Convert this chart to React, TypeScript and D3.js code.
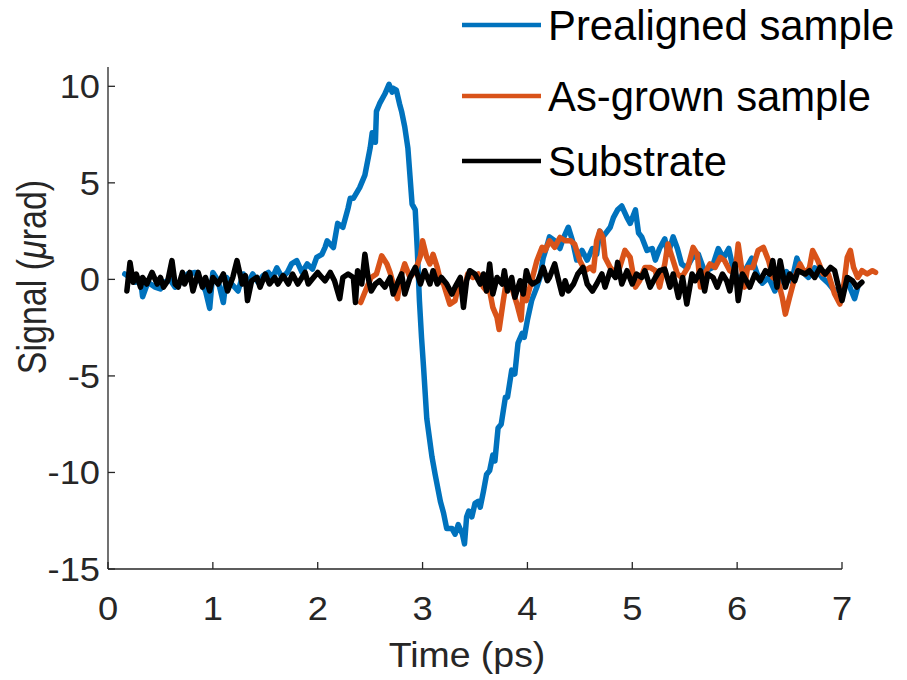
import React from "react";
import * as d3 from "d3";

// ---------- data (time in ps, signal in µrad) ----------
const prealigned: [number, number][] = [
  [0.16, 0.28], [0.21, 0.1], [0.26, -0.15], [0.31, 0.0], [0.33, -0.9], [0.38, -0.15], [0.45, -0.4],
  [0.5, -0.5], [0.54, -0.15], [0.59, 0.0], [0.64, -0.4], [0.71, -0.07], [0.76, 0.28], [0.83, 0.36],
  [0.88, -0.07], [0.93, -0.6], [0.97, -1.5], [1.0, 0.36], [1.05, -0.07], [1.1, -1.2], [1.13, 0.1],
  [1.18, -0.24], [1.24, -0.6], [1.29, 0.28], [1.33, -0.24], [1.38, 0.28], [1.43, -0.15], [1.48, 0.2],
  [1.53, 0.36], [1.57, 0.1], [1.61, 0.6], [1.66, 0.1], [1.71, 0.36], [1.75, 0.8], [1.8, 0.97],
  [1.85, 0.36], [1.9, 0.8], [1.95, 0.53], [1.99, 1.14], [2.04, 1.3], [2.07, 1.66], [2.09, 2.0],
  [2.15, 1.65], [2.19, 2.9], [2.24, 2.7], [2.29, 3.7], [2.31, 4.2], [2.34, 4.2], [2.4, 4.75],
  [2.45, 5.4], [2.5, 6.8], [2.52, 7.6], [2.55, 7.1], [2.56, 8.7], [2.59, 9.1], [2.64, 9.6],
  [2.68, 10.1], [2.71, 9.7], [2.72, 9.9], [2.75, 9.8], [2.78, 9.1], [2.8, 8.7], [2.83, 7.9],
  [2.86, 6.8], [2.9, 3.9], [2.93, 3.6], [2.95, 1.5], [2.97, -1.1], [2.99, -3.0], [3.01, -4.6],
  [3.04, -7.2], [3.09, -9.2], [3.12, -10.1], [3.17, -11.5], [3.2, -12.1], [3.23, -12.9], [3.28, -12.9],
  [3.31, -13.2], [3.34, -12.7], [3.38, -13.2], [3.4, -13.7], [3.42, -12.3], [3.44, -12.0], [3.47, -12.3],
  [3.5, -11.6], [3.53, -11.5], [3.55, -11.8], [3.58, -11.0], [3.61, -10.1], [3.64, -9.9], [3.67, -9.1],
  [3.69, -9.4], [3.72, -7.7], [3.75, -7.5], [3.79, -6.1], [3.81, -6.1], [3.85, -4.7], [3.88, -4.9],
  [3.91, -3.3], [3.95, -2.8], [3.97, -3.0], [4.0, -2.1], [4.04, -1.1], [4.09, -0.4], [4.12, 0.1],
  [4.15, 1.1], [4.19, 1.8], [4.21, 2.2], [4.26, 2.0], [4.31, 1.6], [4.34, 2.1], [4.39, 2.7],
  [4.43, 2.0], [4.47, 1.0], [4.52, 1.5], [4.57, 1.0], [4.62, 1.6], [4.66, 1.3], [4.69, 2.5],
  [4.72, 2.2], [4.79, 2.7], [4.82, 3.2], [4.86, 3.6], [4.9, 3.8], [4.95, 3.2], [4.98, 2.9],
  [5.03, 3.6], [5.06, 2.4], [5.09, 2.2], [5.14, 1.5], [5.19, 1.6], [5.22, 1.0], [5.26, 1.6],
  [5.31, 2.1], [5.34, 1.3], [5.39, 2.2], [5.43, 1.6], [5.47, 0.8], [5.52, 0.6], [5.57, 1.1],
  [5.63, 1.3], [5.69, 0.4], [5.76, 0.6], [5.82, 1.6], [5.87, 1.1], [5.92, 1.6], [5.96, 0.6],
  [6.01, -0.1], [6.07, 0.4], [6.14, 1.1], [6.19, 0.3], [6.24, -0.2], [6.3, 0.1], [6.36, -0.6],
  [6.41, -0.1], [6.47, 0.4], [6.52, -0.1], [6.57, 1.1], [6.62, 0.4], [6.68, 0.1], [6.74, 0.6],
  [6.81, 0.1], [6.87, -0.2], [6.93, -0.6], [7.0, -0.4], [7.06, -0.2], [7.12, -1.0], [7.15, -0.4],
];

const asGrown: [number, number][] = [
  [2.41, -1.2], [2.44, -0.8], [2.47, -0.4], [2.51, 0.1], [2.56, 0.28], [2.61, 1.22], [2.66, 0.8],
  [2.69, 0.36], [2.72, -0.24], [2.76, -1.0], [2.79, 0.1], [2.83, 0.8], [2.88, 0.1], [2.93, 0.45],
  [2.98, 1.22], [3.0, 2.0], [3.04, 1.14], [3.07, 0.8], [3.1, 1.3], [3.14, 0.62], [3.17, -0.07],
  [3.2, -0.24], [3.23, -0.76], [3.26, -1.28], [3.31, -1.1], [3.34, -0.4], [3.39, -0.76], [3.43, 0.28],
  [3.48, 0.1], [3.53, 0.28], [3.58, -0.4], [3.61, -0.6], [3.64, -0.6], [3.67, -1.45], [3.71, -1.97],
  [3.73, -2.6], [3.77, -1.1], [3.8, -0.07], [3.85, -0.4], [3.9, -1.28], [3.94, -2.1], [3.96, -0.4],
  [3.99, -1.1], [4.04, -0.07], [4.09, 0.97], [4.14, 1.66], [4.17, 1.5], [4.21, 2.0], [4.26, 1.66],
  [4.31, 2.17], [4.36, 2.0], [4.41, 2.0], [4.45, 1.83], [4.5, 0.97], [4.55, 0.45], [4.6, 0.62],
  [4.63, 0.45], [4.66, 2.0], [4.69, 2.5], [4.72, 2.17], [4.74, 1.14], [4.79, 0.62], [4.84, 0.28],
  [4.88, 0.62], [4.93, 1.5], [4.98, 1.14], [5.03, -0.4], [5.07, -0.07], [5.12, 0.62], [5.17, 0.62],
  [5.22, 0.45], [5.26, -0.4], [5.31, 0.8], [5.34, 1.83], [5.38, 1.14], [5.43, 0.28], [5.47, 0.1],
  [5.53, 0.62], [5.58, 1.66], [5.62, 1.3], [5.65, -0.4], [5.69, 0.28], [5.74, 0.8], [5.79, 0.62],
  [5.84, 1.14], [5.88, 0.97], [5.93, 0.45], [5.98, 0.28], [6.01, 1.83], [6.05, 0.28], [6.07, -0.4],
  [6.1, 0.62], [6.15, 0.62], [6.2, 1.5], [6.25, 1.66], [6.3, 0.97], [6.34, 0.1], [6.39, -0.07],
  [6.43, -0.93], [6.46, -1.8], [6.5, -0.93], [6.55, 0.1], [6.6, 0.8], [6.65, 0.28], [6.69, 0.62],
  [6.72, 1.5], [6.77, 0.97], [6.82, 0.28], [6.87, 0.28], [6.93, -0.76], [6.98, -1.28], [7.01, -0.6],
  [7.05, 1.14], [7.08, 1.5], [7.11, 0.62], [7.15, 0.1], [7.19, 0.45], [7.24, 0.28], [7.29, 0.45],
  [7.32, 0.36],
];

const substrate: [number, number][] = [
  [0.18, -0.6], [0.21, 0.88], [0.24, -0.15], [0.27, 0.28], [0.31, -0.4], [0.33, 0.1], [0.37, -0.24],
  [0.42, 0.36], [0.47, -0.24], [0.5, 0.1], [0.53, -0.4], [0.57, -0.07], [0.61, 0.97], [0.64, -0.24],
  [0.67, -0.4], [0.71, 0.36], [0.73, -0.24], [0.78, 0.36], [0.81, -0.6], [0.86, 0.36], [0.9, -0.4],
  [0.93, 0.1], [0.97, -0.6], [1.0, 0.1], [1.05, -0.24], [1.1, 0.28], [1.14, -0.6], [1.19, 0.1],
  [1.23, 0.97], [1.28, -0.24], [1.31, 0.2], [1.33, -1.1], [1.37, -0.07], [1.42, 0.1], [1.45, -0.4],
  [1.5, 0.28], [1.54, -0.24], [1.59, 0.1], [1.62, -0.24], [1.67, 0.2], [1.72, -0.24], [1.76, 0.28],
  [1.81, -0.24], [1.85, 0.1], [1.88, 0.36], [1.91, -0.24], [1.96, 0.1], [2.0, 0.36], [2.04, 0.1],
  [2.07, -0.07], [2.12, 0.36], [2.16, -0.07], [2.21, -1.0], [2.24, 0.1], [2.29, 0.28], [2.34, 0.1],
  [2.36, -1.2], [2.38, 0.45], [2.42, -0.24], [2.45, 1.3], [2.48, 0.1], [2.51, -0.6], [2.55, -0.24],
  [2.59, -0.07], [2.64, -0.4], [2.69, 0.1], [2.72, -0.76], [2.77, -0.07], [2.8, 0.28], [2.83, -0.76],
  [2.88, 0.1], [2.93, 0.62], [2.98, -0.24], [3.02, 0.45], [3.07, -0.24], [3.1, 0.45], [3.14, -0.24],
  [3.18, 0.1], [3.23, -0.24], [3.28, -0.76], [3.31, -0.4], [3.36, 0.1], [3.39, -1.45], [3.42, -0.07],
  [3.45, 0.45], [3.5, 0.28], [3.55, -0.24], [3.58, 0.28], [3.61, -0.6], [3.64, 0.8], [3.67, -0.76],
  [3.71, 0.1], [3.76, -0.24], [3.78, 0.45], [3.81, -0.6], [3.85, 0.1], [3.88, -0.93], [3.93, -0.07],
  [3.96, -0.76], [3.99, 0.45], [4.02, -0.07], [4.05, -0.24], [4.1, -0.07], [4.15, 0.62], [4.19, -0.07],
  [4.21, 0.1], [4.26, 0.8], [4.29, 0.1], [4.33, -0.76], [4.36, -0.07], [4.39, -0.6], [4.44, -0.24],
  [4.48, 0.28], [4.53, 0.62], [4.57, -0.24], [4.62, -0.6], [4.66, -0.24], [4.71, 0.28], [4.74, -0.4],
  [4.79, 0.45], [4.84, 0.1], [4.86, 0.88], [4.9, -0.24], [4.95, 0.45], [5.0, -0.24], [5.04, 0.28],
  [5.09, 0.1], [5.12, 0.45], [5.17, -0.4], [5.22, 0.1], [5.26, 0.45], [5.31, 0.53], [5.36, -0.4],
  [5.39, 0.28], [5.44, -0.93], [5.48, 0.1], [5.52, -1.28], [5.57, 0.28], [5.6, -0.07], [5.65, 0.45],
  [5.69, -0.6], [5.72, 0.28], [5.77, 0.1], [5.81, -0.4], [5.86, 0.28], [5.9, -0.07], [5.93, -0.6],
  [5.98, 0.8], [6.01, -1.1], [6.05, 0.28], [6.07, 0.1], [6.12, -0.4], [6.17, 0.28], [6.22, -0.07],
  [6.27, 0.45], [6.31, 0.28], [6.34, 0.97], [6.38, -0.4], [6.41, 0.97], [6.46, -0.4], [6.5, 0.28],
  [6.55, -0.07], [6.58, 0.45], [6.65, 0.28], [6.69, 0.45], [6.74, 0.1], [6.79, 0.62], [6.84, 0.28],
  [6.89, 0.62], [6.93, 0.45], [6.96, -0.24], [7.0, -1.1], [7.05, 0.1], [7.1, -0.07], [7.14, -0.4],
  [7.19, -0.15],
];

const xTicks = [0, 1, 2, 3, 4, 5, 6, 7];
const yTicks = [-15, -10, -5, 0, 5, 10];
const seriesNames = ["Prealigned sample", "As-grown sample", "Substrate"];
const seriesColors = ["#0072BD", "#D95319", "#000000"];

export default function App() {
  const W = 907;
  const H = 680;
  const left = 108;
  const right = 842;
  const top = 67;
  const bottom = 569;
  const x = d3.scaleLinear().domain([0, 7]).range([left, right]);
  const y = d3.scaleLinear().domain([-15, 11]).range([bottom, top]);
  const line = d3
    .line<[number, number]>()
    .x((d) => x(d[0]))
    .y((d) => y(d[1]));
  const seriesData = [prealigned, asGrown, substrate];
  const axisColor = "#262626";
  const font = "'Liberation Sans', Arial, Helvetica, sans-serif";
  const tickFs = 33;
  const legendRows = [25, 96, 161];

  return (
    <svg
      width={W}
      height={H}
      style={{ position: "absolute", left: 0, top: 0, background: "#fff" }}
      fontFamily={font}
    >
      <rect x={0} y={0} width={W} height={H} fill="#fff" />
      {/* data */}
      {seriesData.map((s, i) => (
        <path
          key={i}
          d={line(s) || ""}
          fill="none"
          stroke={seriesColors[i]}
          strokeWidth={5.5}
          strokeLinejoin="round"
          strokeLinecap="round"
        />
      ))}
      {/* axes */}
      <line x1={left} y1={top} x2={left} y2={bottom} stroke={axisColor} strokeWidth={1.3} />
      <line x1={left} y1={bottom} x2={right} y2={bottom} stroke={axisColor} strokeWidth={1.3} />
      {xTicks.map((t) => (
        <g key={"xt" + t}>
          <line x1={x(t)} x2={x(t)} y1={bottom} y2={bottom - 7} stroke={axisColor} strokeWidth={1.3} />
          <g transform={`translate(${x(t)},620) scale(1.1,1)`}>
            <text x={0} y={0} textAnchor="middle" fontSize={tickFs} fill={axisColor}>
              {t}
            </text>
          </g>
        </g>
      ))}
      {yTicks.map((t) => (
        <g key={"yt" + t}>
          <line x1={left} x2={left + 7} y1={y(t)} y2={y(t)} stroke={axisColor} strokeWidth={1.3} />
          <g transform={`translate(100,${y(t) + 12}) scale(1.1,1)`}>
            <text x={0} y={0} textAnchor="end" fontSize={tickFs} fill={axisColor}>
              {t}
            </text>
          </g>
        </g>
      ))}
      {/* axis labels */}
      <g transform="translate(467,667) scale(1.07,1)">
        <text x={0} y={0} textAnchor="middle" fontSize={35} fill={axisColor}>
          Time (ps)
        </text>
      </g>
      <g transform="translate(46,277) scale(1.18,1) rotate(-90)">
        <text x={0} y={0} textAnchor="middle" fontSize={34} fill={axisColor}>
          Signal (<tspan fontStyle="italic">μ</tspan>rad)
        </text>
      </g>
      {/* legend */}
      {seriesNames.map((n, i) => (
        <g key={n}>
          <line
            x1={462}
            x2={541}
            y1={legendRows[i]}
            y2={legendRows[i]}
            stroke={seriesColors[i]}
            strokeWidth={4.5}
          />
          <text x={548} y={legendRows[i] + 15} fontSize={41.8} fill="#000">
            {n}
          </text>
        </g>
      ))}
    </svg>
  );
}
